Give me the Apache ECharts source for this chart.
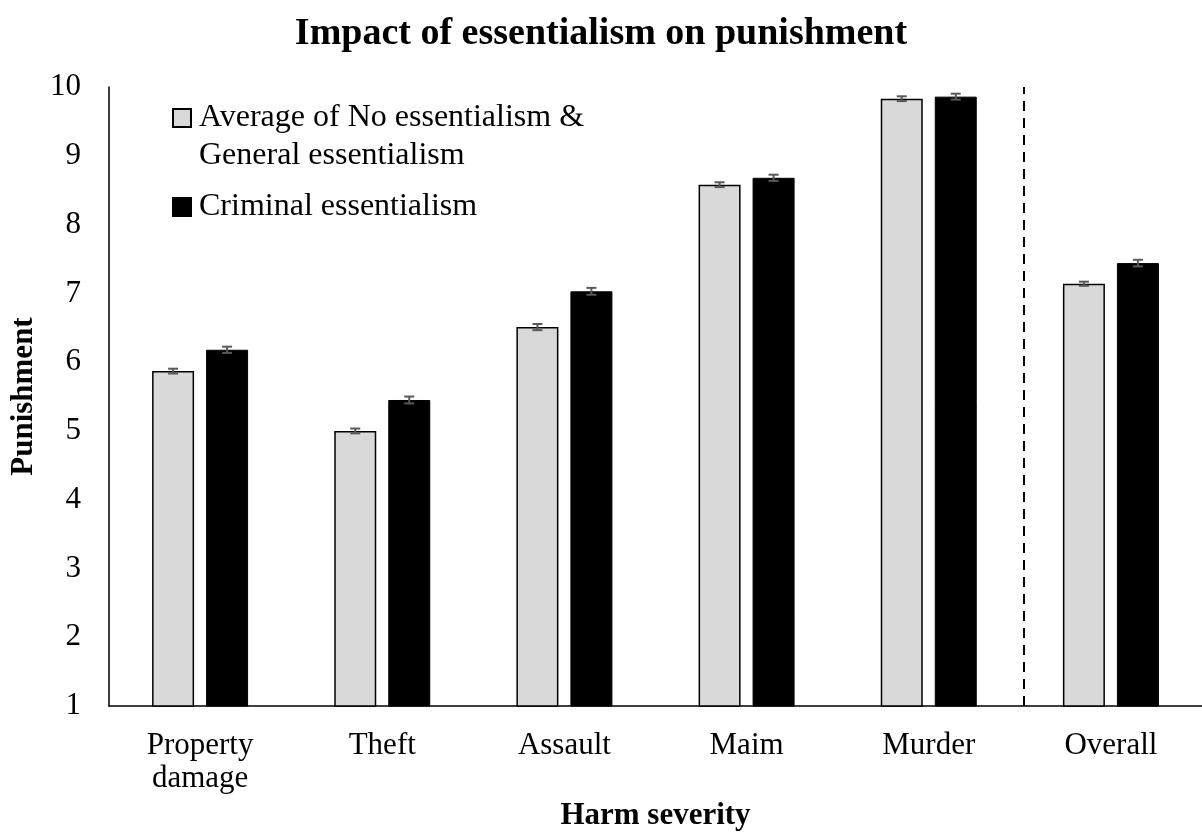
<!DOCTYPE html>
<html>
<head>
<meta charset="utf-8">
<title>Impact of essentialism on punishment</title>
<script src="https://cdn.jsdelivr.net/npm/echarts@6/dist/echarts.min.js"></script>
<style>
    html, body { margin: 0; padding: 0; background: #fff; }
    #chart { width: 1202px; height: 836px; }
</style>
</head>
<body>
<div id="chart"></div>
<script>
// 数据
const categories = ["Property\ndamage", "Theft", "Assault", "Maim", "Murder", "Overall"];
const avgNames = "Average of No essentialism & General essentialism";
const crimName = "Criminal essentialism";
const avgValues = [5.87, 5.00, 6.51, 8.58, 9.83, 7.14];
const avgErrors = [0.035, 0.035, 0.045, 0.035, 0.035, 0.03];
const crimValues = [6.18, 5.45, 7.03, 8.68, 9.86, 7.44];
const crimErrors = [0.045, 0.05, 0.05, 0.045, 0.043, 0.048];
const yTicks = [1, 2, 3, 4, 5, 6, 7, 8, 9, 10];
const dividerAt = 5.02; // 虚线位置（Murder 与 Overall 之间）

(function () {
    const my_echart = echarts.init(document.getElementById("chart"));
    const font = "'Liberation Serif', 'Times New Roman', serif";
    const barWidth = 42;
    const barGapPx = 12;
    const shift = (barWidth + barGapPx) / 2; //误差线相对类目中心的偏移

    // 误差线
    function errorSeries(values, errors, dir) {
        return {
            type: "custom",
            xAxisIndex: 0,
            yAxisIndex: 0,
            z: 5,
            silent: true,
            data: values.map((v, i) => [i, v - errors[i], v + errors[i]]),
            renderItem: function (params, api) {
                const lo = api.coord([api.value(0), api.value(1)]);
                const hi = api.coord([api.value(0), api.value(2)]);
                const x = lo[0] + dir * shift;
                const cap = 5;
                const style = { stroke: "#595959", lineWidth: 2 };
                return {
                    type: "group",
                    children: [
                        { type: "line", shape: { x1: x, y1: lo[1], x2: x, y2: hi[1] }, style: style },
                        { type: "line", shape: { x1: x - cap, y1: lo[1], x2: x + cap, y2: lo[1] }, style: style },
                        { type: "line", shape: { x1: x - cap, y1: hi[1], x2: x + cap, y2: hi[1] }, style: style }
                    ]
                };
            }
        };
    }

    let option = {
        animation: false,
        backgroundColor: "#fff",
        title: {
            text: "Impact of essentialism on punishment",
            left: "center",
            top: 10,
            textStyle: { fontFamily: font, fontWeight: "bold", fontSize: 38, color: "#000" }
        },
        legend: [
            {
                data: [avgNames],
                left: 172,
                top: 61,
                padding: 0,
                itemWidth: 18,
                itemHeight: 18,
                icon: "rect",
                selectedMode: false,
                //首行留空，让图标与第一行文字对齐
                formatter: function () { return "\nAverage of No essentialism &\nGeneral essentialism"; },
                textStyle: { fontFamily: font, fontSize: 32, color: "#000", lineHeight: 38, padding: [0, 0, 0, 3] }
            },
            {
                data: [crimName],
                left: 172,
                top: 188,
                padding: 0,
                itemWidth: 18,
                itemHeight: 18,
                icon: "rect",
                selectedMode: false,
                textStyle: { fontFamily: font, fontSize: 32, color: "#000", lineHeight: 38, padding: [0, 0, 0, 3] }
            }
        ],
        grid: {
            left: 108,
            top: 87,
            width: 1100,
            bottom: 122,
            containLabel: false
        },
        xAxis: [
            {
                type: "category",
                data: categories,
                name: "Harm severity",
                nameLocation: "middle",
                nameGap: 87,
                nameTextStyle: { fontFamily: font, fontWeight: "bold", fontSize: 31, color: "#000" },
                axisLine: { lineStyle: { color: "#000", width: 1.5 } },
                axisTick: { show: false },
                axisLabel: { fontFamily: font, fontSize: 31, color: "#000", margin: 23, lineHeight: 33, interval: 0 }
            },
            {
                type: "value", //隐藏的数值轴，用来放虚线
                min: 0,
                max: categories.length,
                show: false
            }
        ],
        yAxis: {
            type: "value",
            min: yTicks[0],
            max: yTicks[yTicks.length - 1],
            interval: 1,
            name: "Punishment",
            nameLocation: "middle",
            nameGap: 70,
            nameTextStyle: { fontFamily: font, fontWeight: "bold", fontSize: 31, color: "#000" },
            axisLine: { show: true, lineStyle: { color: "#000", width: 1.5 } },
            axisTick: { show: false },
            splitLine: { show: false },
            axisLabel: { fontFamily: font, fontSize: 31, color: "#000", margin: 28 }
        },
        series: [
            {
                name: avgNames,
                type: "bar",
                barWidth: barWidth,
                barGap: (barGapPx / barWidth * 100) + "%",
                data: avgValues,
                itemStyle: { color: "#d9d9d9", borderColor: "#000", borderWidth: 1.5 }
            },
            {
                name: crimName,
                type: "bar",
                barWidth: barWidth,
                data: crimValues,
                itemStyle: { color: "#000", borderColor: "#000", borderWidth: 1 }
            },
            errorSeries(avgValues, avgErrors, -1),
            errorSeries(crimValues, crimErrors, 1),
            {
                type: "line",
                xAxisIndex: 1,
                data: [],
                markLine: {
                    silent: true,
                    symbol: "none",
                    label: { show: false },
                    lineStyle: { color: "#000", type: [10, 7], width: 2 },
                    data: [{ xAxis: dividerAt }]
                }
            }
        ]
    }; //配置项
    my_echart.setOption(option);
    window.addEventListener("resize", function () {
        my_echart.resize();
    });
})();
</script>
</body>
</html>
